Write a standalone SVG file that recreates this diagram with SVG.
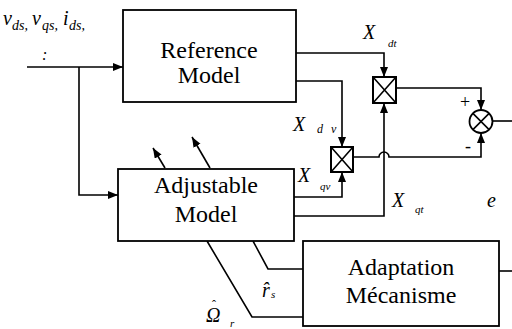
<svg xmlns="http://www.w3.org/2000/svg" width="512" height="329" viewBox="0 0 512 329">
<defs>
<marker id="ah" markerUnits="userSpaceOnUse" markerWidth="11" markerHeight="9" refX="10" refY="4" orient="auto">
<path d="M0,0 L10,4 L0,8 z" fill="#000"/>
</marker>
<style>
.box{fill:#fff;stroke:#000;stroke-width:1.8}
.mul{fill:#fff;stroke:#000;stroke-width:2}
.ln{fill:none;stroke:#000;stroke-width:1.6}
.arr{fill:none;stroke:#000;stroke-width:1.6;marker-end:url(#ah)}
.t{font-size:24px;text-anchor:middle}
.i{font-style:italic}
</style>
</defs>
<g id="connectors">
<path class="arr" d="M27,67 H123"/>
<path class="arr" d="M79,67 V195 H118"/>
<path class="arr" d="M296,53 H384 V77"/>
<path class="arr" d="M296,81 H342 V147"/>
<path class="arr" d="M294,197 H342 V172"/>
<path class="arr" d="M294,216 H384 V103"/>
<path class="arr" d="M396,88 H481 V110"/>
<path class="arr" d="M353,157 H379 A5,5 0 0 1 389,157 H481 V133"/>
<path class="ln" d="M493,121 H512"/>
<path class="ln" d="M499,271 H512"/>
<path class="arr" d="M165,168 L153,148"/>
<path class="arr" d="M210,168 L192,137"/>
<path class="ln" d="M253,241 L268,269 H303"/>
<path class="ln" d="M207,241 L252,317 H303"/>
</g>
<g font-family="Liberation Serif, serif" fill="#000">
<g id="reference-model">
<rect class="box" x="123" y="10" width="173" height="92"/>
<text class="t" x="209" y="58">Reference</text>
<text class="t" x="209" y="83">Model</text>
</g>
<g id="adjustable-model">
<rect class="box" x="118" y="169" width="176" height="72"/>
<text class="t" x="206" y="193">Adjustable</text>
<text class="t" x="206" y="222">Model</text>
</g>
<g id="adaptation">
<rect class="box" x="303" y="241" width="196" height="85"/>
<text class="t" x="401" y="275">Adaptation</text>
<text class="t" x="401" y="303">Mécanisme</text>
</g>
<g id="mult1">
<rect class="mul" x="373" y="77" width="23" height="26"/>
<path class="ln" d="M373,77 L396,103 M396,77 L373,103"/>
</g>
<g id="mult2">
<rect class="mul" x="331" y="147" width="22" height="25"/>
<path class="ln" d="M331,147 L353,172 M353,147 L331,172"/>
</g>
<g id="sum">
<circle cx="481" cy="121.5" r="11.5" fill="#fff" stroke="#000" stroke-width="1.8"/>
<path class="ln" d="M472.9,113.4 L489.1,129.6 M489.1,113.4 L472.9,129.6"/>
<text x="465" y="108" font-size="18" text-anchor="middle">+</text>
<text x="468" y="152" font-size="18" text-anchor="middle">-</text>
</g>
<g id="labels">
<text class="i" font-size="20" x="3" y="25">v</text>
<text class="i" font-size="14" x="12" y="30">ds,</text>
<text class="i" font-size="20" x="32" y="25">v</text>
<text class="i" font-size="14" x="42" y="30">qs,</text>
<text class="i" font-size="20" x="63" y="25">i</text>
<text class="i" font-size="14" x="69" y="30">ds,</text>
<text class="i" font-size="16" x="42" y="60">:</text>
<text class="i" font-size="20" x="363" y="39">X</text>
<text class="i" font-size="11" x="388" y="47">dt</text>
<text class="i" font-size="20" x="293" y="131">X</text>
<text class="i" font-size="12" x="317" y="133">d</text>
<text class="i" font-size="12" x="331" y="133">v</text>
<text class="i" font-size="20" x="298" y="182">X</text>
<text class="i" font-size="11" x="320" y="190">qv</text>
<text class="i" font-size="20" x="392" y="207">X</text>
<text class="i" font-size="11" x="415" y="213">qt</text>
<text class="i" font-size="20" x="487" y="207">e</text>
<text class="i" font-size="20" x="262" y="297">r̂</text>
<text class="i" font-size="11" x="271" y="298">s</text>
<text class="i" font-size="20" x="206" y="322">Ω<tspan font-style="normal" font-size="12" x="212" y="309">ˆ</tspan></text>
<text class="i" font-size="11" x="230" y="327">r</text>
</g>
</g>
</svg>
